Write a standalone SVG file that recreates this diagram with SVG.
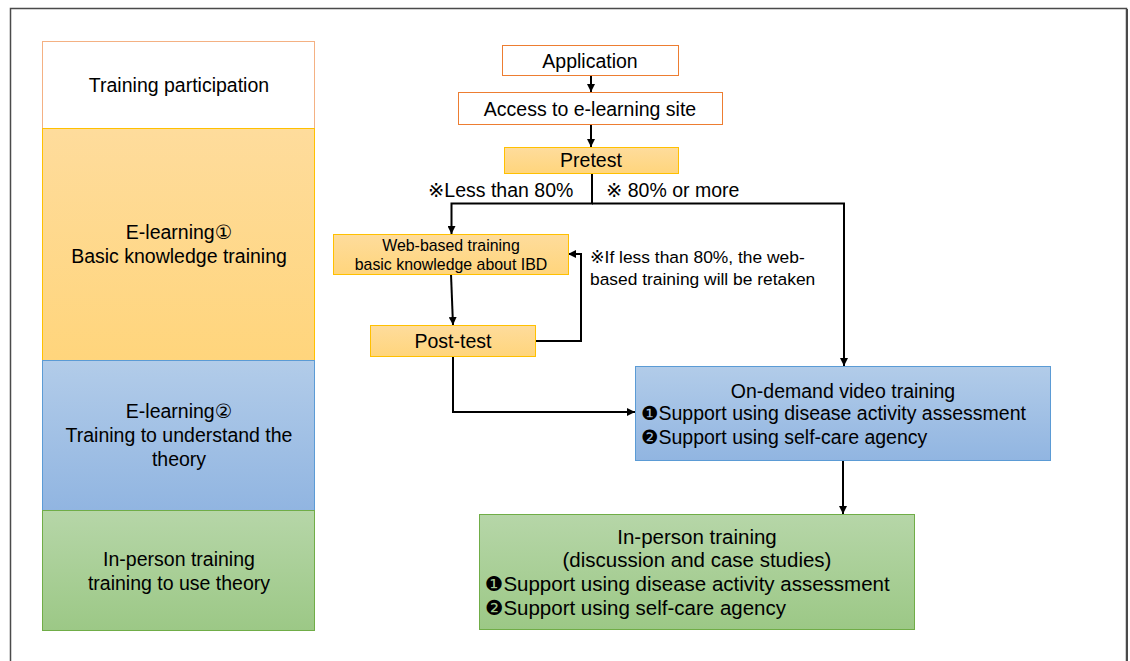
<svg xmlns="http://www.w3.org/2000/svg" width="1130" height="661" viewBox="0 0 1130 661">
<style>
text{font-family:"Liberation Sans","DejaVu Sans","Noto Sans CJK JP",sans-serif;fill:#000}
.t20{font-size:20.5px}
.t19{font-size:19.5px}
.t17{font-size:17.4px}
.t16{font-size:15.9px}
.c{text-anchor:middle}
.ln{fill:none;stroke:#000;stroke-width:2}
</style>
<defs>
<linearGradient id="gO" x1="0" y1="0" x2="0" y2="1"><stop offset="0" stop-color="#FEDC9C"/><stop offset="1" stop-color="#FFD57C"/></linearGradient>
<linearGradient id="gB" x1="0" y1="0" x2="0" y2="1"><stop offset="0" stop-color="#B2CCE9"/><stop offset="1" stop-color="#91B5E1"/></linearGradient>
<linearGradient id="gG" x1="0" y1="0" x2="0" y2="1"><stop offset="0" stop-color="#B6D6A8"/><stop offset="1" stop-color="#9CC886"/></linearGradient>
<marker id="ah" viewBox="0 0 10 10" refX="10" refY="5" markerWidth="4" markerHeight="4" orient="auto" markerUnits="strokeWidth"><path d="M0,0L10,5L0,10z" fill="#000"/></marker>
</defs>
<rect width="1130" height="661" fill="#fff"/>
<path d="M10.5,661V8.5H1126.5V661" fill="none" stroke="#4a4a4a" stroke-width="1.5"/>
<line x1="1127" y1="9" x2="1127" y2="661" stroke="#4a4a4a" stroke-width="2"/>

<g id="col-participation"><rect x="42.5" y="41.5" width="272" height="87" fill="#fff" stroke="#F4B183"/><text class="t19 c" x="179" y="92">Training participation</text></g>
<g id="col-elearning1"><rect x="42.5" y="128.5" width="272" height="232" fill="url(#gO)" stroke="#FFC000"/><text class="t19 c" x="179" y="239">E-learning①</text><text class="t19 c" x="179" y="263">Basic knowledge training</text></g>
<g id="col-elearning2"><rect x="42.5" y="360.5" width="272" height="150" fill="url(#gB)" stroke="#5B9BD5"/><text class="t19 c" x="179" y="418">E-learning②</text><text class="t19 c" x="179" y="442">Training to understand the</text><text class="t19 c" x="179" y="466">theory</text></g>
<g id="col-inperson"><rect x="42.5" y="510.5" width="272" height="120" fill="url(#gG)" stroke="#70AD47"/><text class="t19 c" x="179" y="566">In-person training</text><text class="t19 c" x="179" y="590">training to use theory</text></g>

<g id="connectors">
<line class="ln" x1="591" y1="75" x2="591" y2="92" marker-end="url(#ah)"/>
<line class="ln" x1="591" y1="124" x2="591" y2="147" marker-end="url(#ah)"/>
<path class="ln" d="M592,173V203.5H451.5V234" marker-end="url(#ah)"/>
<path class="ln" d="M592,203.5H844V366" marker-end="url(#ah)"/>
<line class="ln" x1="451" y1="274" x2="453" y2="325" marker-end="url(#ah)"/>
<path class="ln" d="M535,341H581V254H568" marker-end="url(#ah)"/>
<path class="ln" d="M453,356V412H635" marker-end="url(#ah)"/>
<line class="ln" x1="843" y1="460" x2="843" y2="514" marker-end="url(#ah)"/>
<text class="t19" x="428" y="197">※Less than 80%</text>
<text class="t19" x="606" y="197">※ 80% or more</text>
<text class="t17" x="590" y="263">※If less than 80%, the web-</text>
<text class="t17" x="590" y="285">based training will be retaken</text>
</g>

<g id="application"><rect x="502.5" y="45.5" width="176" height="30" fill="#fff" stroke="#ED7D31"/><text class="t19 c" x="590" y="68">Application</text></g>
<g id="access"><rect x="458.5" y="92.5" width="264" height="32" fill="#fff" stroke="#ED7D31"/><text class="t19 c" x="590" y="116">Access to e-learning site</text></g>
<g id="pretest"><rect x="504.5" y="147.5" width="174" height="26" fill="url(#gO)" stroke="#FFC000"/><text class="t19 c" x="591" y="167">Pretest</text></g>
<g id="webbased"><rect x="333.5" y="234.5" width="235" height="40" fill="url(#gO)" stroke="#FFC000"/><text class="t16 c" x="451" y="251">Web-based training</text><text class="t16 c" x="451" y="270">basic knowledge about IBD</text></g>
<g id="posttest"><rect x="370.5" y="325.5" width="165" height="31" fill="url(#gO)" stroke="#FFC000"/><text class="t19 c" x="453" y="348">Post-test</text></g>
<g id="ondemand"><rect x="635.5" y="366.5" width="415" height="94" fill="url(#gB)" stroke="#5B9BD5"/><text class="t19 c" x="843" y="398">On-demand video training</text><text class="t19" x="641" y="420">❶Support using disease activity assessment</text><text class="t19" x="641" y="444">❷Support using self-care agency</text></g>
<g id="inperson"><rect x="479.5" y="514.5" width="435" height="115" fill="url(#gG)" stroke="#70AD47"/><text class="t20 c" x="697" y="544">In-person training</text><text class="t20 c" x="697" y="567">(discussion and case studies)</text><text class="t20" x="485" y="591">❶Support using disease activity assessment</text><text class="t20" x="485" y="615">❷Support using self-care agency</text></g>
</svg>
